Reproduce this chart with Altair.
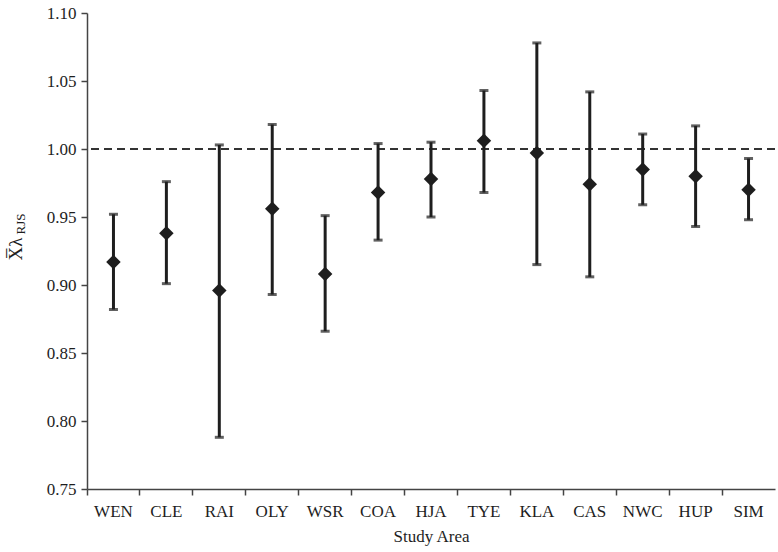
import altair as alt
import pandas as pd

areas = ["WEN", "CLE", "RAI", "OLY", "WSR", "COA", "HJA", "TYE", "KLA", "CAS", "NWC", "HUP", "SIM"]
means = [0.917, 0.938, 0.896, 0.956, 0.908, 0.968, 0.978, 1.006, 0.997, 0.974, 0.985, 0.980, 0.970]
lower = [0.882, 0.901, 0.788, 0.893, 0.866, 0.933, 0.950, 0.968, 0.915, 0.906, 0.959, 0.943, 0.948]
upper = [0.952, 0.976, 1.003, 1.018, 0.951, 1.004, 1.005, 1.043, 1.078, 1.042, 1.011, 1.017, 0.993]
y_ticks = [0.75, 0.80, 0.85, 0.90, 0.95, 1.00, 1.05, 1.10]
ref_value = 1.0

df = pd.DataFrame({"area": areas, "mean": means, "lo": lower, "hi": upper})

FONT = "Liberation Serif"
INK = "#1e1e1e"

x_enc = alt.X(
    "area:N",
    sort=areas,
    scale=alt.Scale(paddingInner=0, paddingOuter=0),
    axis=alt.Axis(
        title="Study Area",
        labelAngle=0,
        bandPosition=0,
        tickSize=6,
        labelPadding=8,
        titlePadding=9,
        labelFontSize=17,
        titleFontSize=17,
        titleFontWeight="normal",
    ),
)
y_scale = alt.Scale(domain=[0.75, 1.10], nice=False, zero=False)
y_axis = alt.Axis(
    title=None,
    values=y_ticks,
    format=".2f",
    tickSize=6,
    labelPadding=5,
    labelFontSize=17,
    grid=False,
)

base = alt.Chart(df)

refline = alt.Chart(pd.DataFrame({"v": [ref_value]})).mark_rule(
    color="#333333", strokeWidth=2, strokeDash=[8, 5]
).encode(y=alt.Y("v:Q", scale=y_scale, axis=y_axis))

bars = base.mark_rule(color=INK, strokeWidth=3).encode(
    x=x_enc,
    y=alt.Y("lo:Q", scale=y_scale, axis=y_axis),
    y2="hi:Q",
)
cap_lo = base.mark_tick(color=INK, thickness=3, size=9).encode(
    x=x_enc, y=alt.Y("lo:Q", scale=y_scale, axis=y_axis)
)
cap_hi = base.mark_tick(color=INK, thickness=3, size=9).encode(
    x=x_enc, y=alt.Y("hi:Q", scale=y_scale, axis=y_axis)
)
pts = base.mark_point(shape="diamond", filled=True, size=210, color=INK, opacity=1).encode(
    x=x_enc, y=alt.Y("mean:Q", scale=y_scale, axis=y_axis)
)

title_main = alt.Chart(pd.DataFrame({"t": ["X\u0305\u03bb"]})).mark_text(
    font=FONT, fontSize=19, angle=270, align="center", baseline="middle", color=INK
).encode(text="t:N", x=alt.value(-71), y=alt.value(236))
title_sub = alt.Chart(pd.DataFrame({"t": ["RJS"]})).mark_text(
    font=FONT, fontSize=13, angle=270, align="center", baseline="middle", color=INK
).encode(text="t:N", x=alt.value(-66), y=alt.value(211))

chart = alt.layer(refline, bars, cap_lo, cap_hi, pts, title_main, title_sub).properties(
    width=688,
    height=476,
    autosize=alt.AutoSizeParams(type="none"),
    padding={"left": 87, "top": 13, "right": 3, "bottom": 63},
    background="white",
).configure_view(stroke=None).configure_axis(
    labelFont=FONT,
    titleFont=FONT,
    labelColor=INK,
    titleColor=INK,
    domainColor="#444444",
    tickColor="#444444",
    domainWidth=1.5,
    tickWidth=1.5,
)

chart.save("out.html", embed_options={"renderer": "svg", "actions": False})
